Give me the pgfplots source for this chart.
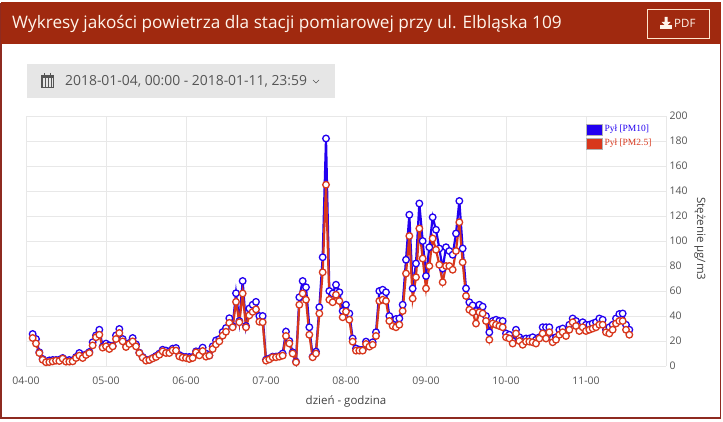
\documentclass[border=0pt]{standalone}
\usepackage{fontspec}
\setmainfont{Open Sans}
\newfontfamily\legfont{Liberation Serif}
\usepackage{pgfplots}
\usepackage{pgfplotstable}
\pgfplotsset{compat=1.18}

\definecolor{headred}{HTML}{A0290F}
\definecolor{framered}{HTML}{8E2A20}
\definecolor{pmblue}{HTML}{2200F0}
\definecolor{pmred}{HTML}{D8371C}
\definecolor{txtgray}{HTML}{555555}
\definecolor{gridgray}{HTML}{E8E8E8}
\definecolor{btngray}{HTML}{E6E6E6}

% hour since 04-00, PM10, PM2.5
\pgfplotstableread{
h pm10 pm25
2 25.6 22.4
3 21.6 18
4 11 10.4
5 5.6 5
6 3.5 3
7 4.5 3.2
8 4.8 3.7
9 4.8 4.3
10 5 4
11 6.4 5.9
12 4.5 3.5
13 4.8 3.5
14 4.5 3.7
15 7.2 6.4
16 10.4 8.3
17 8.3 6.4
18 9.3 8.8
19 11.2 10.4
20 19 16.5
21 24.5 23
22 29 25
23 15.5 14.7
24 17.9 15.7
25 16.5 13.6
26 16 15.7
27 24.5 21.6
28 29.6 26.4
29 21.6 19.7
30 17.6 15.2
31 18.4 17.6
32 22.4 19.7
33 17.3 15.7
34 10.7 10.4
35 7.2 6.7
36 5 4.3
37 5 4.8
38 6.4 6.1
39 8 7.2
40 9.9 9
41 13 11.7
42 12.3 10.4
43 11.7 10.4
44 13.9 12.5
45 14.4 12.3
46 8.8 7.7
47 7.5 6.7
48 7.2 6.4
49 7.2 5.6
50 7.2 6.4
51 11.7 10.9
52 11.7 8.5
53 14.7 12
54 9.9 7.5
55 8.5 8.3
56 15.7 13.6
57 20.5 17.3
58 21.6 19.7
59 27.2 24.3
60 30.4 27.4
61 38.2 34.5
62 32 31
63 58.2 51.3
64 36 35
65 68 58
66 32 31
67 46 40.5
68 49 43.3
69 51.3 45.3
70 40 35.4
71 40 35
72 5 4.3
73 6 5.3
74 7.5 7
75 7.5 7
76 8 7.5
77 10 8.3
78 27.5 24
79 20 18
80 11 10
81 3.5 3
82 55 49
83 68 58
84 63 53
85 31 25
86 7.5 7
87 11.5 10
88 47 42
89 87 75
90 182 145
91 60 53
92 58 51
93 65 57
94 59 52
95 44 39
96 49 43.5
97 42 37
98 22 19.5
99 14 12.3
100 13 12.3
101 13 12.3
102 19.5 17.6
103 17 15.5
104 19 17
105 27 24
106 60 52
107 61 53
108 59 52
109 40 36
110 36 32
111 37.6 31
112 38 33
113 49 44
114 85 74
115 121 104
116 62 54
117 82 71
118 130 110
119 100 86
120 72 62
121 95 80
122 119 102
123 109 93
124 94 81
125 78 67
126 95 80
127 92 80
128 89 77
129 106 92
130 132 115
131 94 83
132 62 56
133 51 45
134 48.5 43
135 44 34
136 49 43
137 47.5 42
138 40 36
139 27 21
140 36 34
141 37 33
142 36 32
143 36 31
144 26 23
145 25 22
146 20 18
147 29 26
148 23 20
149 21 17
150 22 19.5
151 22 19.5
152 23 19
153 21 18
154 23 22
155 31 26
156 31 22
157 31 27
158 22 19
159 23 21
160 29 25
161 30 27
162 27 24
163 33 29
164 38 35
165 36 32
166 33 28
167 35 31
168 33 28
169 33 29
170 34 30
171 35 31
172 38 33
173 37 33
174 29 27
175 31 26
176 33 29
177 38 34
178 41.6 36
179 42 36
180 33 29
181 29 25
}\airdata

\begin{document}
\begin{tikzpicture}
\path[use as bounding box] (0,0) rectangle (723pt,421pt);

\begin{scope}[x=1pt,y=-1pt,yshift=421pt]
% frame and header
\draw[framered,line width=1.2pt] (1,3) -- (1,418) -- (720.5,418) -- (720.5,3);
\fill[headred] (0.5,2) rectangle (721,44);
\node[anchor=west,text=white!92!orange,font=\fontsize{17.2}{20}\selectfont,inner sep=0pt] at (12,23.5) {Wykresy jakości powietrza dla stacji pomiarowej przy ul. Elbląska 109};
% PDF button
\draw[white!80!orange,line width=0.8pt] (647.5,9.5) rectangle (709.5,38.5);
\fill[white!92!orange] (660,25.5) rectangle (672,29);
\fill[white!92!orange] (664.5,17) rectangle (667.5,22) -- (670.5,22) -- (666,26.5) -- (661.5,22) -- (664.5,22);
\node[anchor=west,text=white!92!orange,font=\fontsize{11.5}{13}\selectfont,inner sep=0pt] at (674,23.5) {PDF};
% date range button
\fill[btngray] (27,64) rectangle (335,98);
\draw[txtgray,line width=0.7pt,step=3] (41.5,76) grid (53,87);
\draw[txtgray,line width=0.8pt] (41,76) rectangle (53.5,87.5);
\fill[txtgray] (41,75) rectangle (53.5,78);
\fill[txtgray] (43.5,73.5) rectangle (45,76);
\fill[txtgray] (49.5,73.5) rectangle (51,76);
\node[anchor=west,text=txtgray,font=\fontsize{13.9}{15}\selectfont,inner sep=0pt] at (65,81.5) {2018-01-04, 00:00 - 2018-01-11, 23:59};
\draw[txtgray,line width=0.6pt] (313,80) -- (316,83) -- (319,80);
\end{scope}

\begin{axis}[
    at={(26pt,55pt)},
    anchor=south west,
    scale only axis,
    width=640pt,
    height=250pt,
    xmin=0, xmax=192,
    ymin=0, ymax=200,
    axis y line*=right,
    axis x line*=bottom,
    axis line style={draw=none},
    tick style={draw=none},
    xtick={0,24,48,72,96,120,144,168,192},
    xticklabels={04-00,05-00,06-00,07-00,08-00,09-00,10-00,11-00,},
    ytick={0,20,...,200},
    grid=major,
    grid style={gridgray,line width=0.7pt},
    /pgf/number format/assume math mode=true,
    tick label style={font=\fontsize{10.5}{12}\selectfont,text=txtgray},
    xticklabel style={yshift=-7pt},
    yticklabel style={xshift=0pt},
    xlabel={dzień - godzina},
    ylabel={Stężenie µg/m3},
    label style={font=\fontsize{11.5}{13}\selectfont,text=black!75},
    xlabel style={at={(0.5,0)},anchor=center,yshift=-35pt},
    ylabel style={at={(1,0.5)},anchor=center,rotate=180,xshift=-2pt,yshift=34pt},
    legend style={at={(560pt,243pt)},anchor=north west,draw=none,fill=none,
        font=\legfont\fontsize{9.5}{11}\selectfont,row sep=2pt,inner sep=0pt,
        /tikz/every even column/.append style={column sep=0pt}},
    legend cell align=left,
    legend image code/.code={\fill[#1,draw=white!70!black,line width=0.3pt] (0pt,-5.5pt) rectangle (16pt,5.5pt);},
]
\addplot[pmblue,line width=2.2pt,mark=*,mark size=3.3pt,
    mark options={fill=white,draw=pmblue,line width=1.3pt},
    legend image post style={fill=pmblue}] table[x=h,y=pm10] {\airdata};
\addplot[pmred,line width=2.2pt,mark=*,mark size=3.3pt,
    mark options={fill=white,draw=pmred,line width=1.3pt},
    legend image post style={fill=pmred}] table[x=h,y=pm25] {\airdata};
\legend{\textcolor{pmblue}{Pył [PM10]},\textcolor{pmred}{Pył [PM2.5]}}
\end{axis}
\end{tikzpicture}
\end{document}
